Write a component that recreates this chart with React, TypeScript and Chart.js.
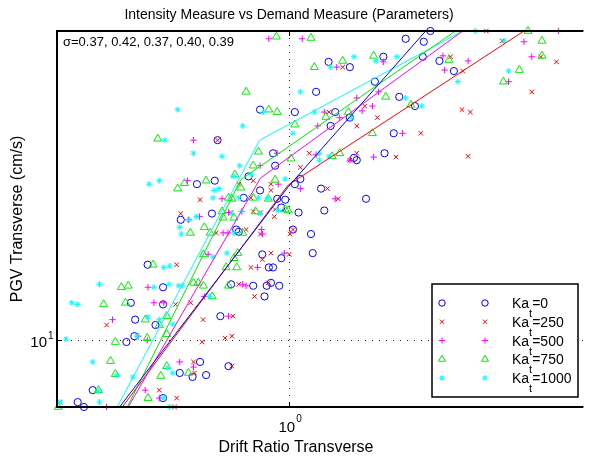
import React, { useEffect, useRef } from "react";
import { Chart, registerables } from "chart.js";

Chart.register(...registerables);

// ---------- axis ranges and ticks ----------
const xRange = [0.302, 4.6];
const yRange = [7.1, 48.6];
const xTicks = [1];
const yTicks = [10];

// ---------- legend / annotation text ----------
const seriesKa = ["0", "250", "500", "750", "1000"];
const sigmaValues = [0.37, 0.42, 0.37, 0.4, 0.39];
const titleText = "Intensity Measure vs Demand Measure (Parameters)";
const xLabelText = "Drift Ratio Transverse";
const yLabelText = "PGV Transverse (cm/s)";

// ---------- Ka_t = 0 (blue circles) ----------
const blueX = [2.08, 1.83, 2.01, 1.63, 2.0, 2.18, 1.227, 1.37, 2.35, 1.56, 1.15, 1.77, 1.92, 1.03, 1.27, 1.37, 1.24, 1.72, 1.4, 1.42, 1.64, 1.03, 1.06, 1.18, 1.49, 1.05, 1.2, 1.02, 1.12, 1.13, 0.86, 0.69, 0.92, 0.93, 0.81, 0.86, 0.62, 0.68, 0.79, 0.94, 0.98, 0.57, 0.67, 0.96, 0.76, 0.77, 0.87, 0.9, 0.92, 0.96, 0.48, 0.52, 0.74, 0.83, 0.88, 0.89, 0.91, 0.95, 0.44, 0.52, 0.7, 0.45, 0.5, 0.43, 0.448, 0.63, 0.567, 0.606, 0.65, 0.73, 0.361, 0.52, 0.334, 0.345];
const blueY = [48.6, 46.7, 46.0, 42.6, 42.6, 41.7, 41.5, 40.4, 39.6, 37.5, 35.6, 34.7, 33.1, 32.1, 32.1, 31.2, 29.9, 28.8, 25.4, 25.1, 26.0, 22.2, 22.8, 21.7, 20.6, 19.2, 19.4, 17.6, 17.2, 15.6, 32.5, 27.8, 26.0, 24.4, 23.1, 21.5, 22.2, 22.6, 20.7, 20.6, 20.5, 18.5, 19.1, 19.7, 17.6, 17.4, 15.5, 14.5, 14.5, 15.2, 14.7, 13.1, 13.3, 13.2, 12.5, 13.2, 13.4, 13.2, 12.1, 12.0, 11.3, 11.1, 10.8, 9.9, 10.2, 8.94, 8.45, 8.28, 8.36, 8.75, 7.74, 7.43, 7.28, 7.1];

// ---------- Ka_t = 250 (red x) ----------
const redX = [2.78, 3.02, 3.69, 2.31, 4.0, 1.32, 2.46, 3.52, 1.48, 1.23, 2.45, 2.56, 1.58, 1.42, 1.98, 1.11, 1.37, 1.42, 1.74, 2.53, 1.06, 1.22, 1.29, 1.02, 1.005, 1.0, 0.69, 0.83, 0.91, 0.63, 0.82, 0.57, 0.74, 0.83, 0.86, 0.93, 0.926, 0.685, 0.8, 0.862, 0.91, 0.87, 0.82, 0.558, 0.77, 0.836, 0.898, 0.555, 0.6, 0.747, 0.388, 0.64, 0.637, 0.717, 0.743, 0.609, 0.612, 0.743, 0.51, 0.558, 0.305, 0.552, 0.77, 0.91];
const redY = [48.6, 46.2, 42.6, 42.6, 41.5, 40.4, 39.6, 35.6, 33.1, 32.1, 32.5, 32.1, 31.2, 29.9, 28.8, 26.0, 25.1, 26.0, 25.5, 25.6, 24.2, 21.7, 20.6, 17.6, 17.2, 15.5, 27.8, 22.6, 22.2, 20.5, 20.7, 19.1, 19.2, 19.3, 19.2, 19.5, 18.8, 17.3, 17.6, 17.2, 15.6, 15.1, 14.5, 14.7, 13.3, 12.5, 13.4, 12.0, 12.1, 11.3, 10.8, 11.1, 9.9, 10.1, 10.2, 8.94, 8.45, 8.75, 7.74, 7.43, 7.28, 7.1, 22.2, 21.5];

// ---------- Ka_t = 500 (magenta +) ----------
const magentaX = [1.07, 0.9, 4.04, 3.38, 1.63, 2.22, 2.53, 3.52, 1.28, 2.24, 3.12, 1.59, 1.42, 1.54, 1.46, 1.2, 1.3, 1.16, 1.8, 1.15, 1.37, 1.55, 1.06, 1.27, 0.609, 0.94, 0.86, 0.945, 0.59, 0.706, 0.628, 0.593, 0.73, 0.71, 0.728, 0.867, 0.871, 0.657, 0.975, 0.849, 0.481, 0.786, 0.8, 0.496, 0.522, 0.73, 0.4, 0.457, 0.479, 0.567, 0.609, 0.644, 0.474, 0.51, 0.388, 0.782];
const magentaY = [46.7, 46.7, 48.6, 46.0, 41.5, 42.8, 41.7, 42.6, 40.4, 39.8, 37.5, 35.6, 34.5, 33.1, 32.3, 32.1, 31.2, 29.9, 28.8, 25.8, 25.1, 25.5, 21.7, 20.6, 27.8, 26.0, 24.4, 22.2, 22.6, 20.6, 18.8, 18.5, 19.2, 17.3, 17.3, 17.6, 17.2, 15.5, 15.6, 14.5, 13.1, 13.3, 13.2, 12.1, 12.1, 11.3, 11.1, 10.2, 10.0, 8.94, 8.71, 12.5, 7.74, 7.43, 7.1, 19.3];

// ---------- Ka_t = 750 (green triangles) ----------
const greenX = [1.12, 0.936, 3.45, 3.71, 1.55, 2.29, 3.71, 1.32, 1.14, 3.3, 3.04, 1.65, 1.88, 1.36, 1.21, 1.03, 1.54, 1.01, 1.25, 1.3, 0.995, 0.8, 0.9, 0.94, 0.506, 0.853, 0.83, 0.755, 0.93, 0.778, 0.561, 0.581, 0.65, 0.73, 0.743, 0.83, 0.898, 0.706, 0.71, 0.751, 0.84, 0.98, 0.644, 0.664, 0.599, 0.786, 0.641, 0.766, 0.721, 0.762, 0.751, 0.494, 0.419, 0.434, 0.609, 0.624, 0.641, 0.73, 0.671, 0.382, 0.428, 0.53, 0.474, 0.51, 0.53, 0.406, 0.479, 0.396, 0.406, 0.53, 0.514, 0.593, 0.372, 0.481, 0.302];
const greenY = [46.9, 47.2, 48.6, 46.2, 42.8, 41.9, 42.8, 41.7, 40.4, 39.8, 37.5, 34.7, 33.3, 32.1, 31.3, 30.1, 28.8, 25.3, 25.6, 26.0, 19.4, 35.6, 32.5, 32.1, 28.0, 26.2, 24.4, 23.3, 22.7, 21.8, 21.7, 22.3, 22.6, 20.7, 20.6, 20.7, 20.6, 19.3, 18.7, 18.7, 19.3, 19.5, 17.8, 17.3, 17.3, 17.3, 15.5, 15.6, 14.5, 14.5, 15.2, 14.7, 13.1, 13.2, 13.4, 13.4, 13.2, 13.2, 12.5, 12.0, 12.1, 11.3, 11.1, 10.8, 10.3, 9.9, 10.1, 8.98, 8.4, 8.75, 8.32, 8.45, 7.74, 7.43, 7.1];

// ---------- Ka_t = 1000 (cyan asterisks) ----------
const cyanX = [2.63, 3.05, 1.4, 1.57, 1.75, 1.24, 3.12, 2.4, 1.06, 1.83, 1.99, 1.14, 1.38, 1.02, 1.17, 1.17, 1.23, 0.876, 0.561, 0.786, 0.525, 0.609, 0.706, 0.774, 0.751, 0.823, 0.98, 0.484, 0.51, 0.678, 0.695, 0.674, 0.77, 0.853, 0.894, 0.618, 0.596, 0.782, 0.862, 0.945, 0.743, 0.567, 0.572, 0.751, 0.674, 0.724, 0.522, 0.538, 0.374, 0.496, 0.536, 0.564, 0.575, 0.324, 0.334, 0.481, 0.51, 0.547, 0.3145, 0.455, 0.361, 0.41, 0.445, 0.533, 0.547, 0.372, 0.522, 0.374, 0.305, 0.538, 0.661];
const cyanY = [48.6, 46.2, 42.6, 41.7, 42.6, 40.4, 39.6, 37.5, 35.6, 34.5, 33.1, 32.1, 31.2, 28.8, 26.0, 25.1, 25.6, 32.1, 32.5, 29.9, 27.8, 26.0, 25.6, 24.4, 23.1, 23.3, 22.8, 22.2, 22.6, 21.5, 21.7, 20.7, 20.7, 20.7, 20.7, 18.8, 18.5, 19.3, 19.1, 19.4, 19.1, 17.8, 17.2, 17.3, 15.3, 15.6, 14.5, 14.6, 13.3, 13.1, 13.3, 13.2, 13.2, 12.1, 12.0, 11.25, 11.1, 10.85, 10.05, 10.2, 8.94, 8.36, 8.28, 8.67, 8.45, 7.7, 7.43, 7.28, 7.28, 7.1, 12.5];

// ---------- fitted lines ----------
const blueFitX = [0.415, 0.995, 2.03];
const blueFitY = [7.1, 21.9, 48.6];
const redFitX = [0.421, 0.995, 3.38];
const redFitY = [7.1, 22.1, 48.6];
const magentaFitX = [0.434, 0.862, 2.46];
const magentaFitY = [7.1, 22.9, 48.6];
const greenFitX = [0.432, 0.778, 2.37];
const greenFitY = [7.1, 22.7, 48.6];
const cyanFitX = [0.41, 0.858, 2.46];
const cyanFitY = [7.1, 27.8, 48.6];

// ---------- styles ----------
const FONT = '"Liberation Sans", Arial, Helvetica, sans-serif';
const styles = [
  { color: "#0000ff", point: "circle", r: 3.6, lr: 3.2 },
  { color: "#ff0000", point: "crossRot", r: 3.2, lr: 3.0 },
  { color: "#ff00ff", point: "cross", r: 3.2, lr: 3.0 },
  { color: "#00ee00", point: "triangle", r: 4.6, lr: 4.0 },
  { color: "#00ffff", point: "star", r: 3.0, lr: 2.8 },
];

const seriesX = [blueX, redX, magentaX, greenX, cyanX];
const seriesY = [blueY, redY, magentaY, greenY, cyanY];
const fitX = [blueFitX, redFitX, magentaFitX, greenFitX, cyanFitX];
const fitY = [blueFitY, redFitY, magentaFitY, greenFitY, cyanFitY];

function zip(xs: number[], ys: number[]) {
  const n = Math.min(xs.length, ys.length);
  const out: { x: number; y: number }[] = [];
  for (let i = 0; i < n; i++) out.push({ x: xs[i], y: ys[i] });
  return out;
}

function drawMarker(ctx: CanvasRenderingContext2D, style: string, x: number, y: number, r: number) {
  ctx.beginPath();
  if (style === "circle") {
    ctx.arc(x, y, r, 0, Math.PI * 2);
  } else if (style === "triangle") {
    let rad = 0;
    ctx.moveTo(x + Math.sin(rad) * r, y - Math.cos(rad) * r);
    rad += (2 * Math.PI) / 3;
    ctx.lineTo(x + Math.sin(rad) * r, y - Math.cos(rad) * r);
    rad += (2 * Math.PI) / 3;
    ctx.lineTo(x + Math.sin(rad) * r, y - Math.cos(rad) * r);
    ctx.closePath();
  } else {
    if (style === "cross" || style === "star") {
      ctx.moveTo(x, y - r);
      ctx.lineTo(x, y + r);
      ctx.moveTo(x - r, y);
      ctx.lineTo(x + r, y);
    }
    if (style === "crossRot" || style === "star") {
      const o = r * Math.SQRT1_2;
      ctx.moveTo(x - o, y - o);
      ctx.lineTo(x + o, y + o);
      ctx.moveTo(x - o, y + o);
      ctx.lineTo(x + o, y - o);
    }
  }
  ctx.stroke();
}

const decorate = {
  id: "decorate",
  afterDraw(chart: any) {
    const { ctx, chartArea: a, scales } = chart;
    const xs = scales.x;
    const ys = scales.y;
    ctx.save();

    // inward major ticks
    ctx.strokeStyle = "#000";
    ctx.lineWidth = 1;
    ctx.beginPath();
    xTicks.forEach((v) => {
      const px = Math.round(xs.getPixelForValue(v)) + 0.5;
      ctx.moveTo(px, a.bottom);
      ctx.lineTo(px, a.bottom - 5);
      ctx.moveTo(px, a.top);
      ctx.lineTo(px, a.top + 5);
    });
    yTicks.forEach((v) => {
      const py = Math.round(ys.getPixelForValue(v)) + 0.5;
      ctx.moveTo(a.left, py);
      ctx.lineTo(a.left + 5, py);
    });
    ctx.stroke();

    // axes frame (left, bottom, top)
    ctx.lineWidth = 2;
    ctx.beginPath();
    ctx.moveTo(a.right, a.top);
    ctx.lineTo(a.left, a.top);
    ctx.lineTo(a.left, a.bottom);
    ctx.lineTo(a.right, a.bottom);
    ctx.stroke();

    ctx.fillStyle = "#000";
    // y tick labels
    yTicks.forEach((v) => {
      const py = ys.getPixelForValue(v);
      const exp = String(Math.round(Math.log10(v)));
      ctx.font = `15px ${FONT}`;
      ctx.textAlign = "right";
      ctx.textBaseline = "alphabetic";
      ctx.fillText("10", a.left - 10, py + 7);
      ctx.font = `10px ${FONT}`;
      ctx.textAlign = "left";
      ctx.fillText(exp, a.left - 9, py - 1);
    });
    // x tick labels
    xTicks.forEach((v) => {
      const px = xs.getPixelForValue(v);
      const exp = String(Math.round(Math.log10(v)));
      ctx.font = `15px ${FONT}`;
      ctx.textAlign = "right";
      ctx.textBaseline = "alphabetic";
      ctx.fillText("10", px + 6, a.bottom + 25);
      ctx.font = `10px ${FONT}`;
      ctx.textAlign = "left";
      ctx.fillText(exp, px + 7, a.bottom + 15);
    });

    // title
    ctx.font = `14px ${FONT}`;
    ctx.textAlign = "center";
    ctx.fillText(titleText, 289, 19);
    // x label
    ctx.font = `16px ${FONT}`;
    ctx.fillText(xLabelText, 296, 452);
    // y label
    ctx.save();
    ctx.translate(22, (a.top + a.bottom) / 2);
    ctx.rotate(-Math.PI / 2);
    ctx.fillText(yLabelText, 0, 0);
    ctx.restore();

    // sigma annotation
    ctx.font = `13px ${FONT}`;
    ctx.textAlign = "left";
    ctx.fillText("\u03c3=" + sigmaValues.map((s) => s.toFixed(2)).join(", "), 63, 46);

    // legend
    const lx = 432, ly = 284, lw = 146, lh = 113;
    ctx.fillStyle = "#fff";
    ctx.fillRect(lx, ly, lw, lh);
    ctx.strokeStyle = "#000";
    ctx.lineWidth = 1.5;
    ctx.strokeRect(lx, ly, lw, lh);
    seriesKa.forEach((k, i) => {
      const cy = 303 + i * 18.75;
      const st = styles[i];
      ctx.strokeStyle = st.color;
      ctx.lineWidth = 1;
      drawMarker(ctx, st.point, 442, cy, st.lr);
      drawMarker(ctx, st.point, 485, cy, st.lr);
      ctx.fillStyle = "#000";
      ctx.font = `14px ${FONT}`;
      ctx.textAlign = "left";
      ctx.fillText("Ka", 512, cy + 5);
      const kw = ctx.measureText("Ka").width;
      ctx.font = `11px ${FONT}`;
      ctx.fillText("t", 512 + kw, cy + 14);
      const tw = ctx.measureText("t").width;
      ctx.font = `14px ${FONT}`;
      ctx.fillText("=" + k, 512 + kw + tw, cy + 5);
    });

    ctx.restore();
  },
};

export default function App() {
  const ref = useRef<HTMLCanvasElement>(null);
  useEffect(() => {
    const canvas = ref.current;
    if (!canvas) return;
    const order = [5, 4, 3, 2, 1];
    const pointSets = seriesX.map((xs, i) => ({
      label: "Ka_t=" + seriesKa[i],
      data: zip(xs, seriesY[i]),
      showLine: false,
      pointStyle: styles[i].point,
      pointRadius: styles[i].r,
      pointBorderWidth: 1,
      pointBorderColor: styles[i].color,
      pointBackgroundColor: "rgba(0,0,0,0)",
      borderColor: styles[i].color,
      backgroundColor: "rgba(0,0,0,0)",
      clip: false,
      order: order[i],
    }));
    const lineSets = fitX.map((xs, i) => ({
      label: "fit " + seriesKa[i],
      data: zip(xs, fitY[i]),
      showLine: true,
      pointRadius: 0,
      borderWidth: 1,
      borderColor: styles[i].color,
      backgroundColor: "rgba(0,0,0,0)",
      fill: false,
      tension: 0,
      order: 0,
    }));
    const chart = new Chart(canvas, {
      type: "scatter",
      data: { datasets: [...pointSets, ...lineSets] as any },
      options: {
        animation: false,
        responsive: false,
        maintainAspectRatio: false,
        layout: { padding: { top: 31, left: 0, right: 0, bottom: 0 } },
        plugins: {
          legend: { display: false },
          title: { display: false },
          tooltip: { enabled: false },
        },
        scales: {
          x: {
            type: "logarithmic",
            min: xRange[0],
            max: xRange[1],
            afterBuildTicks: (s: any) => {
              s.ticks = xTicks.map((v) => ({ value: v }));
            },
            afterFit: (s: any) => {
              s.height = 51;
            },
            ticks: { display: false },
            grid: { color: "#222", lineWidth: 1, drawTicks: false },
            border: { display: false, dash: [1, 6] },
          },
          y: {
            type: "logarithmic",
            min: yRange[0],
            max: yRange[1],
            afterBuildTicks: (s: any) => {
              s.ticks = yTicks.map((v) => ({ value: v }));
            },
            afterFit: (s: any) => {
              s.width = 57;
            },
            ticks: { display: false },
            grid: { color: "#222", lineWidth: 1, drawTicks: false },
            border: { display: false, dash: [1, 6] },
          },
        },
      } as any,
      plugins: [decorate],
    });
    return () => chart.destroy();
  }, []);
  return (
    <div style={{ position: "absolute", left: 0, top: 0, width: 589, height: 458, background: "#fff" }}>
      <canvas ref={ref} width={589} height={458} style={{ display: "block", width: 589, height: 458 }} />
    </div>
  );
}
